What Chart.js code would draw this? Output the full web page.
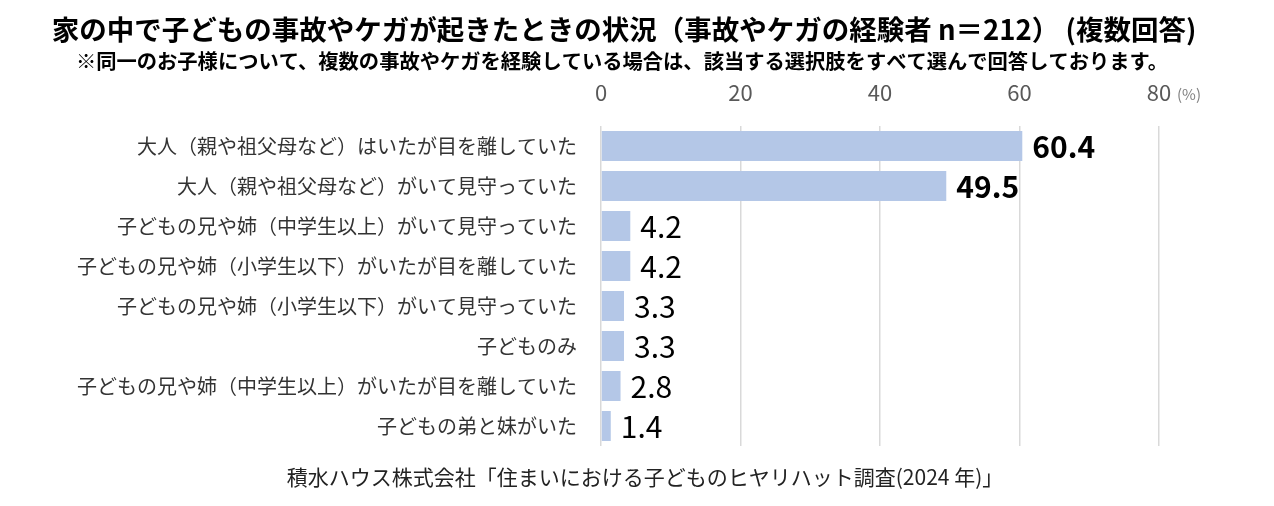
<!DOCTYPE html>
<html lang="ja">
<head>
<meta charset="utf-8">
<script src="https://cdn.jsdelivr.net/npm/chart.js@4"></script>
<style>
  html, body { margin: 0; padding: 0; background: #fff; }
  #wrap { width: 1274px; height: 506px; position: relative; }
</style>
</head>
<body>
<div id="wrap"><canvas id="myChart" width="1274" height="506"></canvas></div>
<script>
const ctx = document.getElementById('myChart');

const titleText = '家の中で子どもの事故やケガが起きたときの状況（事故やケガの経験者 n＝212） (複数回答)';
const noteText = '※同一のお子様について、複数の事故やケガを経験している場合は、該当する選択肢をすべて選んで回答しております。';
const sourceText = '積水ハウス株式会社「住まいにおける子どものヒヤリハット調査(2024 年)」';

const labels = [
  '大人（親や祖父母など）はいたが目を離していた',
  '大人（親や祖父母など）がいて見守っていた',
  '子どもの兄や姉（中学生以上）がいて見守っていた',
  '子どもの兄や姉（小学生以下）がいたが目を離していた',
  '子どもの兄や姉（小学生以下）がいて見守っていた',
  '子どものみ',
  '子どもの兄や姉（中学生以上）がいたが目を離していた',
  '子どもの弟と妹がいた'
];

const values = [60.4, 49.5, 4.2, 4.2, 3.3, 3.3, 2.8, 1.4];

const xTicks = [0, 20, 40, 60, 80];

const JP = '"Noto Sans CJK JP", "Noto Sans", sans-serif';

// draws title, note, source, unit and value labels
const textPlugin = {
  id: 'texts',
  afterDraw(chart) {
    const c = chart.ctx;
    c.save();
    c.fillStyle = '#000';
    c.textAlign = 'center';
    c.textBaseline = 'middle';
    c.font = 'bold 27.5px ' + JP;
    c.fillText(titleText, 624, 30);
    c.font = 'bold 20.3px ' + JP;
    c.fillText(noteText, 622, 61);
    c.font = '21px ' + JP;
    c.fillStyle = '#222';
    c.fillText(sourceText, 645, 477);

    // unit after the last tick
    const xs = chart.scales.x;
    c.textAlign = 'left';
    c.font = '15px ' + JP;
    c.fillStyle = '#7f7f7f';
    c.fillText('(%)', xs.getPixelForValue(80) + 18, 94);

    // value labels
    const meta = chart.getDatasetMeta(0);
    meta.data.forEach((bar, i) => {
      c.font = (i < 2 ? 'bold 30px ' : '30px ') + JP;
      c.fillStyle = '#000';
      c.fillText(values[i].toFixed(1), bar.x + 10, bar.y + 1);
    });
    c.restore();
  }
};

new Chart(ctx, {
  type: 'bar',
  data: {
    labels: labels,
    datasets: [
      {
        axis: 'y',
        data: values,
        backgroundColor: '#b4c7e7',
        borderWidth: 0,
        barPercentage: 0.75,
        categoryPercentage: 1
      }
    ]
  },
  options: {
    indexAxis: 'y',
    responsive: false,
    animation: false,
    layout: {
      padding: { top: 78, left: 10, right: 115, bottom: 60 }
    },
    plugins: {
      legend: { display: false },
      tooltip: { enabled: false }
    },
    scales: {
      x: {
        position: 'top',
        min: 0,
        max: 80,
        afterBuildTicks: (s) => { s.ticks = xTicks.map(v => ({ value: v })); },
        afterFit: (s) => { s.height = 48; },
        grid: { color: '#d9d9d9', lineWidth: 1.5, drawTicks: false },
        border: { display: false },
        ticks: {
          color: '#595959',
          font: { family: JP, size: 22 },
          padding: 20
        }
      },
      y: {
        afterFit: (s) => { s.width = 591; },
        grid: { display: false },
        border: { display: false },
        ticks: {
          color: '#333',
          font: { family: JP, size: 20 },
          padding: 16
        }
      }
    }
  },
  plugins: [textPlugin]
});
</script>
</body>
</html>
